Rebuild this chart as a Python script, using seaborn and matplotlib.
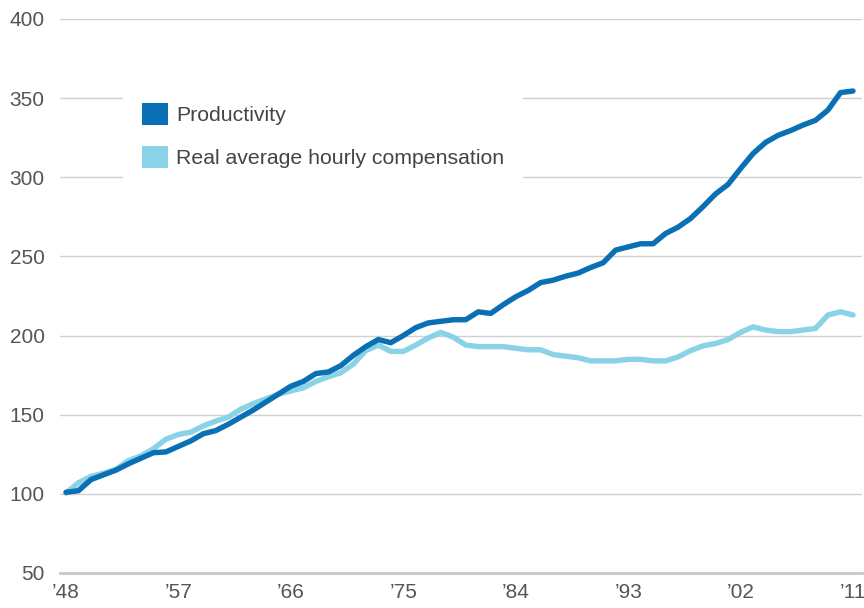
import matplotlib
matplotlib.use("Agg")
import matplotlib.pyplot as plt
import seaborn as sns
import pandas as pd
from matplotlib.patches import Patch

years = list(range(1948, 2012))
productivity = [101, 102, 109, 112, 115, 119, 122.5, 126, 126.5, 130,
                133.5, 138, 140, 144, 148.5, 153, 158, 163, 168, 171,
                176, 177, 181, 187.5, 193, 197.5, 195.5, 200, 205, 208,
                209, 210, 210, 215, 214, 219.5, 224.5, 228.5, 233.5, 235,
                237.5, 239.5, 243, 246, 254, 256, 258, 258, 264.5, 268.5,
                274, 281.5, 289.5, 295.5, 305.5, 315, 322, 326.5, 329.5, 333,
                336, 342.5, 353.5, 354.5]
compensation = [100.5, 107, 111, 113, 115.5, 121, 124, 128.5, 134.5, 137.5,
                139, 143, 146, 148.5, 153.5, 157, 160, 163, 165, 167,
                171, 174, 176.5, 182, 190.5, 194, 190, 190, 194, 198.5,
                202, 199, 194, 193, 193, 193, 192, 191, 191, 188,
                187, 186, 184, 184, 184, 185, 185, 184, 184, 186.5,
                190.5, 193.5, 195, 197.5, 202, 205.5, 203.5, 202.5, 202.5, 203.5,
                204.5, 213, 215, 213]
series_names = ["Productivity", "Real average hourly compensation"]
series_colors = ["#0b6fb6", "#8ad2e6"]
xtick_years = [1948, 1957, 1966, 1975, 1984, 1993, 2002, 2011]
xtick_labels = ["\u201948", "\u201957", "\u201966", "\u201975", "\u201984", "\u201993", "\u201902", "\u201911"]
ytick_values = [50, 100, 150, 200, 250, 300, 350, 400]

df = pd.DataFrame({
    "year": years * 2,
    "value": productivity + compensation,
    "series": [series_names[0]] * len(years) + [series_names[1]] * len(years),
})

sns.set_style("white")
plt.rcParams["font.family"] = ["Liberation Sans", "DejaVu Sans"]

fig = plt.figure(figsize=(8.64, 6.08), dpi=100)
ax = fig.add_axes([60 / 864, 1 - 573 / 608, 802 / 864, 554 / 608])

# draw compensation first so productivity sits on top
sns.lineplot(data=df, x="year", y="value", hue="series",
             hue_order=series_names[::-1], palette=series_colors[::-1],
             linewidth=3.9, ax=ax, legend=False, zorder=3)
for ln in ax.get_lines():
    ln.set_solid_capstyle("round")
    ln.set_solid_joinstyle("round")

ax.set_xlim(1948 - 6 / 12.49, 2011 + 9 / 12.49)
ax.set_ylim(50, 400)
ax.set_yticks(ytick_values)
ax.set_yticklabels([str(v) for v in ytick_values])
ax.set_xticks(xtick_years)
ax.set_xticklabels(xtick_labels)
ax.set_xlabel("")
ax.set_ylabel("")

ax.grid(axis="y", color="#d0d0d0", linewidth=1.0, zorder=0)
ax.grid(axis="x", visible=False)
ax.set_axisbelow(True)
for s in ["top", "right", "left"]:
    ax.spines[s].set_visible(False)
ax.spines["bottom"].set_color("#c8c8c8")
ax.spines["bottom"].set_linewidth(2.0)

ax.tick_params(axis="y", length=0, pad=11, labelsize=15, labelcolor="#555555")
ax.tick_params(axis="x", length=5, width=1, color="#c8c8c8", pad=2,
               labelsize=15, labelcolor="#555555")

handles = [Patch(facecolor=c, edgecolor="none") for c in series_colors]
leg = ax.legend(handles, series_names, loc="upper left",
                bbox_to_anchor=(123 / 864, 1 - 84 / 608),
                bbox_transform=fig.transFigure, borderaxespad=0,
                fontsize=15.3, frameon=True, fancybox=False,
                facecolor="white", edgecolor="none", framealpha=1,
                handlelength=1.22, handleheight=1.22, handletextpad=0.38,
                labelspacing=0.95, borderpad=0.9)
for t in leg.get_texts():
    t.set_color("#444444")

fig.savefig("out.png", dpi=100)
